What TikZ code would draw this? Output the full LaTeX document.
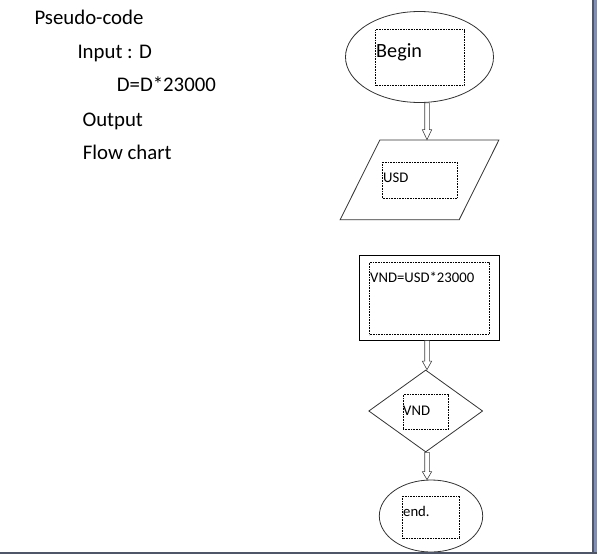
\documentclass[tikz,border=0pt]{standalone}
\usepackage{fontspec}
\setmainfont{Carlito}
\usetikzlibrary{shapes.geometric,calc}

\definecolor{frameline}{RGB}{78,86,104}
\definecolor{framepane}{RGB}{128,142,184}

\tikzset{
    code/.style={anchor=base west,inner sep=0pt,font=\fontsize{20.8}{24}\selectfont},
    small/.style={anchor=base west,inner sep=0pt,font=\fontsize{14.7}{17}\selectfont},
    block/.style={draw=black!80,line width=0.8pt,inner sep=0pt},
    txtbox/.style={draw,dash pattern=on 0.8pt off 0.8pt,line width=0.6pt,inner sep=0pt,anchor=north west},
    hollow/.style={draw=black!75,line width=0.6pt,to path={let \p1=(\tikztostart),\p2=(\tikztotarget),\p3=(spine) in
        (\x3-2.3pt,\y1) -- (\x3-2.3pt,\y2+#1) -- (\x3-4.7pt,\y2+#1) -- (\x3,\y2)
        -- (\x3+4.7pt,\y2+#1) -- (\x3+2.3pt,\y2+#1) -- (\x3+2.3pt,\y1) -- cycle}},
    hollow/.default=10pt
}

\begin{document}
\begin{tikzpicture}[x=1pt,y=-1pt]
    \useasboundingbox (0,0) rectangle (597,554);

    % Pseudo-code
    \node[code] (title) at (34.3,24) {Pseudo-code};
    \node[code] (input) at (77.3,58.3) {Input : D};
    \node[code] (formula) at (116.7,91.7) {D=D*23000};
    \node[code] (output) at (82.3,126) {Output};
    \node[code] (flow) at (82.7,159.3) {Flow chart};

    % Flow chart shapes
    \coordinate (spine) at (427,0);
    \node[block,ellipse,minimum width=148,minimum height=91] (begin) at (419.5,57) {};
    \node[block,trapezium,inner sep=4pt,trapezium left angle=63.43,trapezium right angle=116.57,
          trapezium stretches=true,minimum width=159,minimum height=79.7] (usd) at (419.5,179.9) {};
    \node[block,draw=black,rectangle,minimum width=140.4,minimum height=84.7] (convert) at (429.5,297.7) {};
    \node[block,diamond,aspect=1.39,minimum width=114,minimum height=82] (check) at (425.7,411) {};
    \node[block,ellipse,minimum width=103.4,minimum height=72] (stop) at (431,516) {};

    % Text boxes
    \node[txtbox,minimum width=88.4,minimum height=56] (beginbox) at (375.3,29.3) {};
    \node[txtbox,minimum width=74.4,minimum height=36.6] (usdbox) at (382.3,161.7) {};
    \node[txtbox,minimum width=119.4,minimum height=72.6] (convertbox) at (369.3,261.7) {};
    \node[txtbox,minimum width=45.6,minimum height=35] (checkbox) at (402.7,394.3) {};
    \node[txtbox,minimum width=57,minimum height=42.6] (stopbox) at (402.3,495.7) {};

    \node[anchor=base west,inner sep=0pt,font=\fontsize{20.2}{24}\selectfont] (begintxt) at (376,57) {Begin};
    \node[small] (usdtxt) at (383,182.7) {USD};
    \node[small] (converttxt) at (370,282.7) {VND=USD*23000};
    \node[small] (checktxt) at (403,415.7) {VND};
    \node[small] (stoptxt) at (403,516.7) {end.};

    % Arrows
    \draw[hollow] (begin.south) to (usd.north);
    \draw[hollow=8.5pt] (convert.south) to (check.north);
    \draw[hollow=8pt] (check.south) to (stop.north);

    % Window frame
    \fill[framepane] (593.5,0) rectangle (597,551.5);
    \fill[frameline] (591.5,0) rectangle (593.5,551.5);
    \fill[frameline] (0,551.5) rectangle (597,554);
\end{tikzpicture}
\end{document}
